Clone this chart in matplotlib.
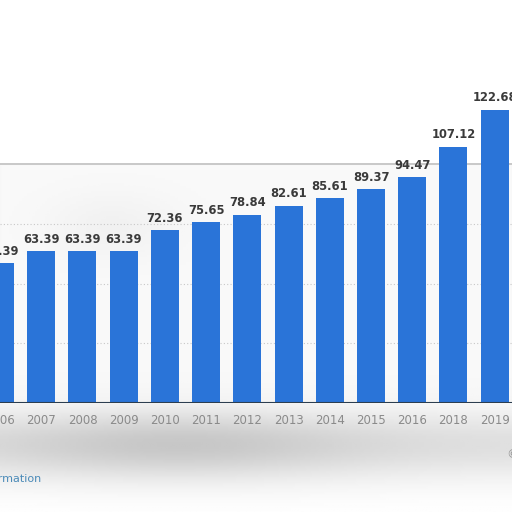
import numpy as np
import matplotlib.pyplot as plt

years = ['2006', '2007', '2008', '2009', '2010', '2011', '2012',
         '2013', '2014', '2015', '2016', '2018', '2019']
values = [58.39, 63.39, 63.39, 63.39, 72.36, 75.65, 78.84,
          82.61, 85.61, 89.37, 94.47, 107.12, 122.68]
grid_values = [25, 50, 75]

fig = plt.figure(figsize=(5.12, 5.12), dpi=100)

# blurred grey smear under the chart (overlay in the screenshot)
bg = fig.add_axes([0, 0, 1, 1], zorder=0)
yy, xx = np.mgrid[0:1:200j, 0:1:200j]
smear = np.exp(-((yy - 0.13) / 0.07) ** 2) * (0.55 + 0.45 * np.exp(-((xx - 0.35) / 0.35) ** 2))
smear += 0.3 * np.exp(-((yy - 0.56) / 0.06) ** 2) * np.exp(-((xx - 0.22) / 0.12) ** 2)
smear *= (yy < 0.68)
bg.imshow(1 - 0.22 * smear, cmap='gray', vmin=0, vmax=1, extent=[0, 1, 0, 1],
          origin='lower', aspect='auto', interpolation='bilinear')
bg.set_axis_off()

ax = fig.add_axes([0, 109 / 512, 1, 403 / 512], zorder=1)
ax.patch.set_alpha(0)
x = np.arange(len(years))
ax.axhspan(0, 100, color='#f4f4f4', alpha=0.5, zorder=0)
for g in grid_values:
    ax.axhline(g, color='#c8c8c8', lw=0.8, ls=(0, (1, 2)), zorder=0.5)
ax.axhline(100, color='#c8c8c8', lw=1.4, zorder=0.5)

bars = ax.bar(x, values, width=0.68, color='#2a74d8', zorder=2)
for xi, v in zip(x, values):
    ax.annotate(f'{v:.2f}', (xi, v), xytext=(0, 4), textcoords='offset points',
                ha='center', va='bottom', fontsize=8.3, fontweight='bold',
                color='#3a3a3a', zorder=3)

ax.axhline(0, color='#2c3e50', lw=1.5, zorder=3)
ax.set_xlim(0.084, 12.42)
ax.set_ylim(0, 403 / 2.39)
ax.set_xticks(x)
ax.set_xticklabels(years)
ax.tick_params(axis='x', length=0, pad=8, labelsize=8.5, labelcolor='#8a8a8a')
ax.set_yticks([])
for s in ax.spines.values():
    s.set_visible(False)

fig.text(41 / 512, 1 - 479 / 512, 'Additional Information', ha='right', va='center',
         fontsize=8, color='#4a8ab8')
fig.text(1.0, 1 - 455 / 512, '©', ha='center', va='center', fontsize=9, color='#999999')

fig.savefig('out.png', dpi=100)
